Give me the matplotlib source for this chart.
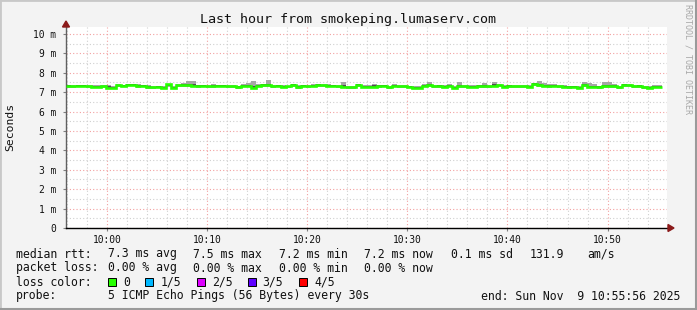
import matplotlib
matplotlib.use("Agg")
import matplotlib.pyplot as plt
from matplotlib.patches import Polygon, Rectangle

plt.rcParams['font.family'] = ['DejaVu Sans Mono']

W, H = 697, 310

# sample times: 30 s steps, seconds relative to 10:00:00, first edge at 09:55:56
t_start = -244
step = 30

# median rtt per sample (ms)
median = [7.33, 7.31, 7.32, 7.33, 7.30, 7.29, 7.28, 7.30, 7.22, 7.23,
          7.35, 7.34, 7.39, 7.38, 7.32, 7.33, 7.26, 7.25, 7.26, 7.20,
          7.41, 7.24, 7.35, 7.36, 7.35, 7.34, 7.31, 7.32, 7.30, 7.31,
          7.32, 7.33, 7.30, 7.31, 7.26, 7.34, 7.33, 7.22, 7.34, 7.37,
          7.36, 7.31, 7.32, 7.29, 7.30, 7.37, 7.26, 7.32, 7.31, 7.33,
          7.37, 7.36, 7.33, 7.34, 7.30, 7.29, 7.25, 7.26, 7.37, 7.28,
          7.29, 7.28, 7.31, 7.32, 7.25, 7.34, 7.30, 7.31, 7.27, 7.23,
          7.24, 7.34, 7.35, 7.30, 7.31, 7.29, 7.34, 7.23, 7.30, 7.31,
          7.29, 7.28, 7.31, 7.32, 7.30, 7.34, 7.35, 7.28, 7.31, 7.30,
          7.30, 7.31, 7.29, 7.42, 7.36, 7.33, 7.31, 7.32, 7.30, 7.29,
          7.26, 7.27, 7.23, 7.37, 7.27, 7.28, 7.26, 7.30, 7.31, 7.30,
          7.25, 7.37, 7.36, 7.30, 7.31, 7.25, 7.24, 7.27, 7.28]

# smoke: slowest and fastest ping
ping_max = [7.38, 7.36, 7.37, 7.38, 7.37, 7.36, 7.38, 7.37, 7.35, 7.34,
            7.40, 7.38, 7.42, 7.41, 7.40, 7.39, 7.35, 7.33, 7.34, 7.30,
            7.44, 7.33, 7.42, 7.48, 7.56, 7.56, 7.38, 7.37, 7.36, 7.40,
            7.37, 7.39, 7.36, 7.35, 7.33, 7.40, 7.45, 7.58, 7.40, 7.44,
            7.65, 7.37, 7.36, 7.35, 7.34, 7.42, 7.36, 7.38, 7.36, 7.40,
            7.43, 7.41, 7.40, 7.38, 7.36, 7.52, 7.33, 7.32, 7.42, 7.36,
            7.36, 7.40, 7.38, 7.37, 7.32, 7.42, 7.38, 7.36, 7.34, 7.30,
            7.33, 7.40, 7.55, 7.36, 7.38, 7.35, 7.42, 7.32, 7.52, 7.37,
            7.36, 7.35, 7.38, 7.45, 7.37, 7.50, 7.41, 7.36, 7.38, 7.37,
            7.38, 7.36, 7.35, 7.47, 7.58, 7.45, 7.42, 7.40, 7.38, 7.36,
            7.33, 7.34, 7.31, 7.55, 7.45, 7.44, 7.34, 7.50, 7.52, 7.44,
            7.33, 7.42, 7.41, 7.36, 7.38, 7.33, 7.32, 7.38, 7.37]
ping_min = [7.24, 7.23, 7.25, 7.26, 7.24, 7.22, 7.21, 7.23, 7.16, 7.17,
            7.28, 7.27, 7.31, 7.30, 7.24, 7.25, 7.19, 7.18, 7.20, 7.15,
            7.26, 7.17, 7.27, 7.29, 7.28, 7.27, 7.24, 7.25, 7.22, 7.23,
            7.25, 7.26, 7.22, 7.24, 7.19, 7.26, 7.25, 7.16, 7.26, 7.29,
            7.28, 7.24, 7.25, 7.22, 7.23, 7.28, 7.18, 7.25, 7.24, 7.25,
            7.29, 7.26, 7.25, 7.26, 7.23, 7.22, 7.18, 7.19, 7.28, 7.21,
            7.22, 7.20, 7.24, 7.25, 7.18, 7.27, 7.23, 7.24, 7.20, 7.17,
            7.18, 7.27, 7.26, 7.23, 7.24, 7.21, 7.26, 7.17, 7.23, 7.24,
            7.22, 7.21, 7.24, 7.23, 7.23, 7.26, 7.27, 7.21, 7.24, 7.23,
            7.23, 7.24, 7.22, 7.34, 7.29, 7.26, 7.24, 7.25, 7.23, 7.22,
            7.19, 7.20, 7.17, 7.29, 7.20, 7.21, 7.19, 7.23, 7.24, 7.22,
            7.18, 7.29, 7.28, 7.23, 7.24, 7.18, 7.17, 7.20, 7.21]
# smoke: 2nd and 4th ping
ping_hi2 = [7.36, 7.34, 7.35, 7.36, 7.34, 7.33, 7.33, 7.34, 7.30, 7.28,
            7.38, 7.36, 7.41, 7.40, 7.36, 7.36, 7.30, 7.29, 7.30, 7.25,
            7.43, 7.29, 7.38, 7.40, 7.42, 7.40, 7.35, 7.35, 7.34, 7.37,
            7.35, 7.36, 7.34, 7.33, 7.30, 7.37, 7.39, 7.30, 7.37, 7.41,
            7.42, 7.34, 7.35, 7.32, 7.33, 7.40, 7.32, 7.35, 7.34, 7.37,
            7.40, 7.39, 7.37, 7.36, 7.33, 7.36, 7.29, 7.29, 7.40, 7.33,
            7.33, 7.35, 7.35, 7.35, 7.29, 7.38, 7.34, 7.34, 7.31, 7.27,
            7.29, 7.37, 7.40, 7.34, 7.35, 7.33, 7.38, 7.28, 7.36, 7.34,
            7.33, 7.32, 7.35, 7.38, 7.34, 7.40, 7.38, 7.33, 7.35, 7.34,
            7.34, 7.34, 7.33, 7.45, 7.42, 7.38, 7.36, 7.36, 7.34, 7.33,
            7.30, 7.31, 7.27, 7.42, 7.33, 7.34, 7.30, 7.36, 7.38, 7.35,
            7.29, 7.40, 7.39, 7.33, 7.35, 7.29, 7.28, 7.32, 7.32]
ping_lo2 = [7.28, 7.27, 7.28, 7.29, 7.26, 7.25, 7.24, 7.26, 7.19, 7.20,
            7.31, 7.30, 7.35, 7.34, 7.28, 7.29, 7.22, 7.21, 7.23, 7.17,
            7.32, 7.20, 7.31, 7.32, 7.31, 7.30, 7.27, 7.28, 7.26, 7.27,
            7.28, 7.29, 7.26, 7.27, 7.22, 7.30, 7.29, 7.19, 7.30, 7.33,
            7.32, 7.27, 7.28, 7.25, 7.26, 7.32, 7.22, 7.28, 7.27, 7.29,
            7.33, 7.31, 7.29, 7.30, 7.26, 7.25, 7.21, 7.22, 7.32, 7.24,
            7.25, 7.24, 7.27, 7.28, 7.21, 7.30, 7.26, 7.27, 7.23, 7.20,
            7.21, 7.30, 7.30, 7.26, 7.27, 7.25, 7.30, 7.20, 7.26, 7.27,
            7.25, 7.24, 7.27, 7.27, 7.26, 7.30, 7.31, 7.24, 7.27, 7.26,
            7.26, 7.27, 7.25, 7.38, 7.32, 7.29, 7.27, 7.28, 7.26, 7.25,
            7.22, 7.23, 7.20, 7.33, 7.23, 7.24, 7.22, 7.26, 7.27, 7.26,
            7.21, 7.33, 7.32, 7.26, 7.27, 7.21, 7.20, 7.23, 7.24]

tick_pos = [0, 600, 1200, 1800, 2400, 3000]
tick_labels = ["10:00", "10:10", "10:20", "10:30", "10:40", "10:50"]
y_ticks = list(range(0, 11))
y_labels = ["0"] + ["%d m" % v for v in range(1, 11)]

loss_names = ["0", "1/5", "2/5", "3/5", "4/5"]
loss_colors = ["#26ff00", "#00b8ff", "#dd00ff", "#5e00ff", "#ff0000"]

edges = [t_start + step * i for i in range(len(median) + 1)]

fig = plt.figure(figsize=(W / 100, H / 100), dpi=100)
fig.patch.set_facecolor("#f3f3f3")

def fx(px):
    return px / W

def fy(py):
    return 1 - py / H

ax = fig.add_axes([fx(66), fy(228), fx(667) - fx(66), fy(27) - fy(228)])
ax.set_facecolor("white")
ax.set_xlim(t_start, t_start + 3600)
ax.set_ylim(0, 10.36)

# grid
for t in range(-240, 3360, 120):
    if t % 600 == 0:
        continue
    ax.axvline(t, color="#cfcfcf", lw=0.8, ls=(0, (1, 2)), zorder=1)
for t in tick_pos:
    ax.axvline(t, color="#f2a0a0", lw=0.8, ls=(0, (1, 2)), zorder=1)
for v in range(0, 21):
    y = v * 0.5
    if v % 2:
        ax.axhline(y, color="#cfcfcf", lw=0.8, ls=(0, (1, 2)), zorder=1)
    else:
        ax.axhline(y, color="#f2a0a0", lw=0.8, ls=(0, (1, 2)), zorder=1)

# smoke
ax.stairs(ping_max, edges, baseline=ping_min, fill=True, color="#a6a6a6", lw=0, zorder=2)
ax.stairs(ping_hi2, edges, baseline=ping_lo2, fill=True, color="#505050", lw=0, zorder=3)
# median line
ax.stairs(median, edges, baseline=None, color=loss_colors[0], lw=1.9, zorder=4)

ax.set_xticks(tick_pos)
ax.set_xticklabels(tick_labels)
ax.set_yticks(y_ticks)
ax.set_yticklabels(y_labels)
ax.tick_params(axis="both", labelsize=6.9, length=2, color="#808080", colors="#111111")
ax.tick_params(axis="y", pad=5)
ax.tick_params(axis="x", pad=3)
for s in ["top", "right"]:
    ax.spines[s].set_visible(False)
ax.spines["left"].set_color("#606060")
ax.spines["bottom"].set_color("#000000")
ax.spines["left"].set_linewidth(1)
ax.spines["bottom"].set_linewidth(1)

# axis arrows
arrow_col = "#8b1a1a"
fig.patches.append(Polygon([(fx(62.5), fy(27)), (fx(69.5), fy(27)), (fx(66), fy(21))],
                           closed=True, color=arrow_col, transform=fig.transFigure))
fig.patches.append(Polygon([(fx(668), fy(224.5)), (fx(668), fy(231.5)), (fx(674), fy(228))],
                           closed=True, color=arrow_col, transform=fig.transFigure))

# frame around the picture
fig.patches.append(Rectangle((0, 0), 1, 1, fill=False, ec="#c8c8c8", lw=2,
                             transform=fig.transFigure))
fig.lines.append(plt.Line2D([0, 1], [fy(309), fy(309)], color="#9a9a9a", lw=1.5,
                            transform=fig.transFigure))
fig.lines.append(plt.Line2D([fx(696), fx(696)], [0, 1], color="#9a9a9a", lw=1.5,
                            transform=fig.transFigure))

fig.text(fx(348), fy(19), "Last hour from smokeping.lumaserv.com", ha="center", va="center",
         fontsize=9.6, color="#111111")
fig.text(fx(10), fy(127), "Seconds", rotation=90, ha="center", va="center", fontsize=8.2,
         color="#111111")
fig.text(fx(688), fy(4), "RRDTOOL / TOBI OETIKER", rotation=270, ha="center", va="top",
         fontsize=6, color="#a8a8a8")

fs = 8.3
tc = "#111111"
fig.text(fx(16), fy(254), "median rtt:", fontsize=fs, va="center", color=tc)
for xp, s in [(107.5, "7.3 ms avg"), (193, "7.5 ms max"), (279, "7.2 ms min"),
              (364.5, "7.2 ms now"), (451, "0.1 ms sd"), (530, "131.9"), (587, "am/s")]:
    fig.text(fx(xp), fy(254), s, fontsize=fs, va="center", color=tc)

fig.text(fx(16), fy(268), "packet loss:", fontsize=fs, va="center", color=tc)
for xp, s in [(107.5, "0.00 % avg"), (193, "0.00 % max"), (279, "0.00 % min"),
              (364.5, "0.00 % now")]:
    fig.text(fx(xp), fy(268), s, fontsize=fs, va="center", color=tc)

fig.text(fx(16), fy(282), "loss color:", fontsize=fs, va="center", color=tc)
for bx, lx, name, col in zip([108, 145, 197, 247.5, 298.5], [123.5, 161, 212, 262, 314],
                             loss_names, loss_colors):
    fig.patches.append(Rectangle((fx(bx), fy(286)), fx(8), 8 / H, facecolor=col,
                                 edgecolor="black", lw=0.7, transform=fig.transFigure))
    fig.text(fx(lx), fy(282), name, fontsize=fs, va="center", color=tc)

fig.text(fx(16), fy(296), "probe:", fontsize=fs, va="center", color=tc)
fig.text(fx(107.5), fy(296), "5 ICMP Echo Pings (56 Bytes) every 30s", fontsize=fs,
         va="center", color=tc)
fig.text(fx(680), fy(296), "end: Sun Nov  9 10:55:56 2025", fontsize=fs, va="center",
         ha="right", color=tc)

fig.savefig("out.png", dpi=100, facecolor=fig.get_facecolor())
